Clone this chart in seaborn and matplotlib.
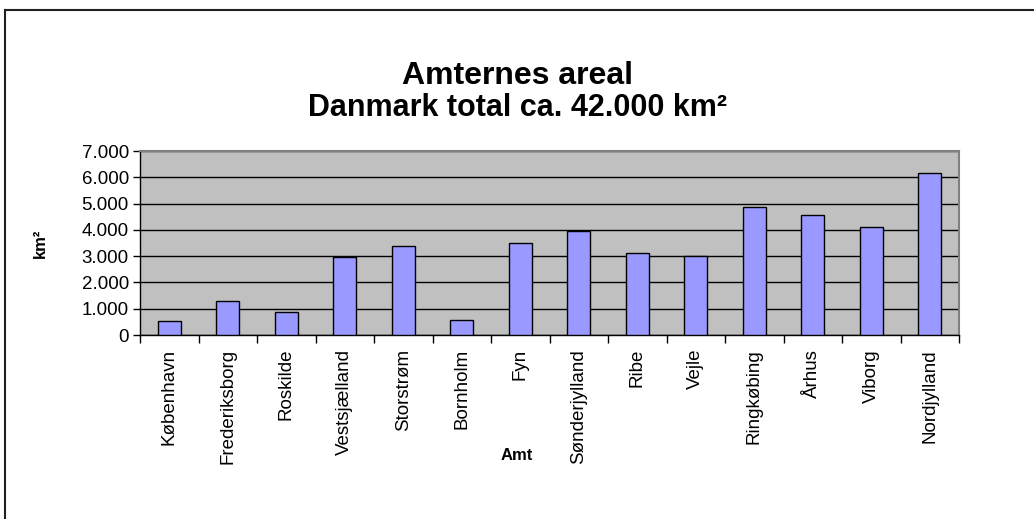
import matplotlib
matplotlib.use('Agg')
import matplotlib.pyplot as plt
import seaborn as sns
import pandas as pd
import numpy as np
from matplotlib.ticker import FuncFormatter, FixedLocator
from matplotlib.lines import Line2D

# Data (km2 per amt)
amter = ['København', 'Frederiksborg', 'Roskilde', 'Vestsjælland', 'Storstrøm',
         'Bornholm', 'Fyn', 'Sønderjylland', 'Ribe', 'Vejle', 'Ringkøbing',
         'Århus', 'Viborg', 'Nordjylland']
areal = [526, 1290, 891, 2950, 3398, 588, 3486, 3938, 3131, 2997, 4853,
         4561, 4122, 6173]
yticks = [0, 1000, 2000, 3000, 4000, 5000, 6000, 7000]

df = pd.DataFrame({'Amt': amter, 'Areal': areal})

plt.rcParams['font.family'] = ['Liberation Sans', 'DejaVu Sans']

fig = plt.figure(figsize=(10.34, 5.19), dpi=100)
ax = fig.add_axes([140 / 1034, 1 - 335 / 519, 819 / 1034, 184 / 519])
ax.set_facecolor('#C0C0C0')

sns.barplot(data=df, x='Amt', y='Areal', color='#9999FF', edgecolor='black',
            linewidth=1, width=0.4, saturation=1, ax=ax, zorder=3)

ax.set_ylim(0, 7000)
ax.set_xlim(-0.5, len(amter) - 0.5)
ax.yaxis.set_major_locator(FixedLocator(yticks))
ax.yaxis.set_major_formatter(FuncFormatter(lambda v, p: f'{int(v):,}'.replace(',', '.')))
ax.grid(axis='y', color='black', linewidth=1, zorder=1)
ax.set_axisbelow(True)

# ticks between categories like Excel
ax.set_xticks(range(len(amter)))
ax.set_xticklabels(amter, rotation=90, va='top', ha='center')
ax.set_xticks(np.arange(-0.5, len(amter), 1), minor=True)
ax.tick_params(axis='x', which='major', length=0, pad=10, labelsize=13.5)
ax.tick_params(axis='x', which='minor', length=6, width=1, color='black')
ax.tick_params(axis='y', length=5, width=1, color='black', labelsize=13.5, pad=3)

for s in ['left', 'bottom']:
    ax.spines[s].set_color('black')
    ax.spines[s].set_linewidth(1)
for s in ['top', 'right']:
    ax.spines[s].set_color('#808080')
    ax.spines[s].set_linewidth(1.5)

ax.set_xlabel('')
ax.set_ylabel('')

fig.text(518 / 1034, 1 - 76 / 519, 'Amternes areal', ha='center', va='center',
         fontsize=23, fontweight='bold')
fig.text(518 / 1034, 1 - 108 / 519, 'Danmark total ca. 42.000 km²',
         ha='center', va='center', fontsize=22, fontweight='bold')
fig.text(40 / 1034, 1 - 243 / 519, 'km²', ha='center', va='center',
         rotation=90, fontsize=12, fontweight='bold')
fig.text(517 / 1034, 1 - 455 / 519, 'Amt', ha='center', va='center',
         fontsize=12, fontweight='bold')

# outer frame (top and left edges visible)
fig.add_artist(Line2D([4.5 / 1034, 4.5 / 1034], [0, 1 - 9.5 / 519], color='#202020', lw=1.5))
fig.add_artist(Line2D([4.5 / 1034, 1], [1 - 9.5 / 519, 1 - 9.5 / 519], color='#202020', lw=1.5))

fig.savefig('out.png', dpi=100)
